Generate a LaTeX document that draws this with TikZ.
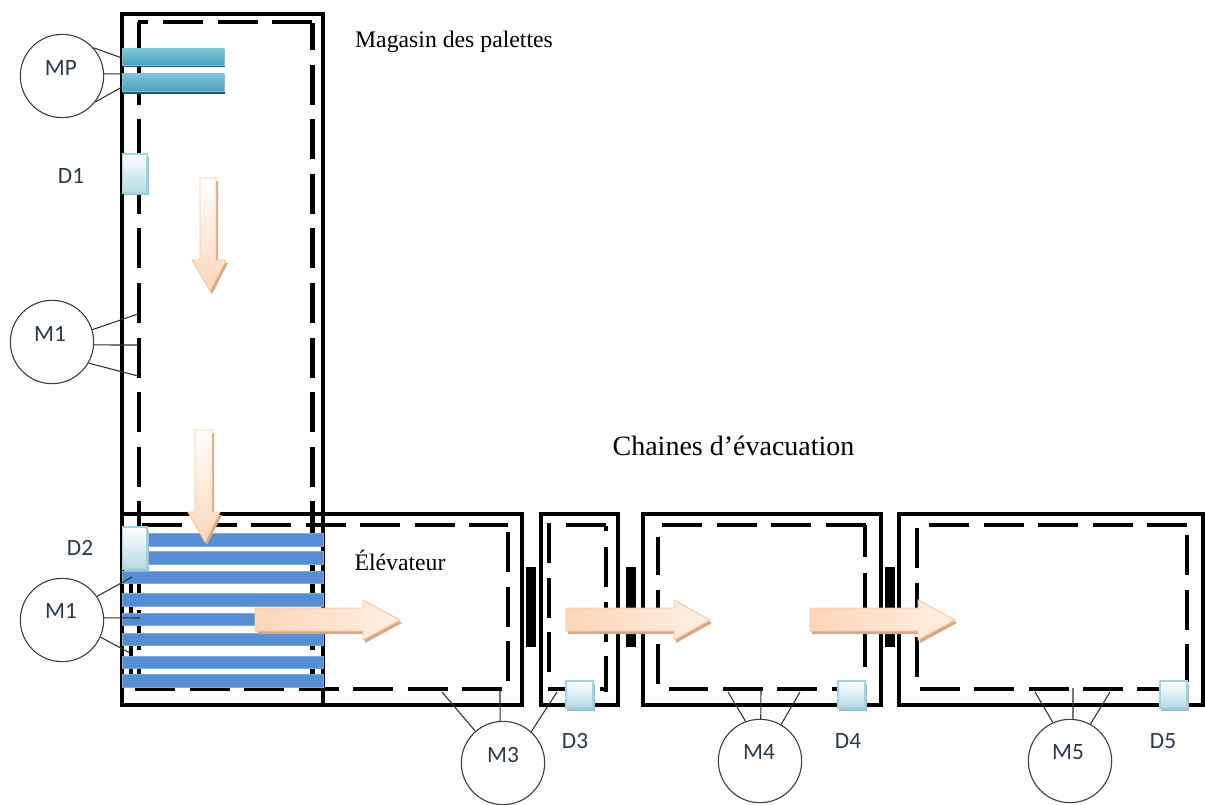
\documentclass[tikz,border=0pt]{standalone}
\usepackage{fontspec}
\setmainfont{Liberation Serif}
\newfontfamily\labelfont{Carlito}
\begin{document}
\begin{tikzpicture}[x=0.75pt,y=-0.75pt,
  outerbox/.style={draw=black,line width=3.1pt},
  dashline/.style={draw=black,line width=3.7pt,dash pattern=on 30pt off 10.875pt},
  coupling/.style={fill=black,draw=none},
  elevbar/.style={fill=blueBar,draw=blueBarEdge,line width=0.4pt},
  motor/.style={circle,draw=motorLine,line width=0.85pt,minimum size=62.5pt,inner sep=0pt},
  link/.style={draw=linkLine,line width=0.8pt},
  tag/.style={font=\labelfont\fontsize{17.5}{20}\selectfont,text=tagText,inner sep=0pt},
  caption/.style={font=\fontsize{17.8}{20}\selectfont,text=black,inner sep=0pt},
  sensorbody/.style={top color=white,bottom color=sensorEnd,draw=sensorEdge,line width=0.8pt},
  sensorshadow/.style={fill=sensorShade,draw=none},
  flowshadow/.style={fill=flowShade,draw=none},
  flowdown/.style={top color=white,bottom color=flowEnd,draw=flowEdge,line width=0.7pt},
  flowright/.style={left color=flowEnd,right color=flowLight,draw=flowEdge,line width=0.7pt}]
\definecolor{blueBar}{HTML}{558ED5}
\definecolor{blueBarEdge}{HTML}{7FA9DE}
\definecolor{motorLine}{HTML}{404040}
\definecolor{linkLine}{HTML}{303030}
\definecolor{tagText}{HTML}{2A3A4A}
\definecolor{sensorEnd}{HTML}{B4DAE5}
\definecolor{sensorEdge}{HTML}{A0D4E2}
\definecolor{sensorShade}{HTML}{9DBDC8}
\definecolor{flowShade}{HTML}{D9A984}
\definecolor{flowEnd}{HTML}{FCD6B8}
\definecolor{flowLight}{HTML}{FEF0E4}
\definecolor{flowEdge}{HTML}{F8C8A0}
\definecolor{palTop}{HTML}{7CC3D8}
\definecolor{palMid}{HTML}{4BA3BE}
\definecolor{palEdge}{HTML}{235A6C}
\useasboundingbox (0,0) rectangle (1205,805);
% outer frames
\draw[outerbox] (122,14) rectangle (323,705);
\draw[outerbox] (122,514) rectangle (522,705);
\draw[outerbox] (541,514) rectangle (618,705);
\draw[outerbox] (643,514) rectangle (881,705);
\draw[outerbox] (899,514) rectangle (1203,705);
% magazine conveyor
\draw[dashline] (138,22) -- (148,22);
\draw[dashline] (163,22) -- (313,22);
\draw[dashline] (312.5,23) -- (312.5,50);
\draw[dashline] (312.5,65) -- (312.5,689);
\draw[dashline] (139,22) -- (139,50);
\draw[dashline] (139,65) -- (139,689);
% elevator conveyor
\draw[dashline] (142,525) -- (508,525);
\draw[dashline] (508,532) -- (508,682);
\draw[dashline] (502,689) -- (135,689);
\draw[dashline] (131,678) -- (131,525);
% second conveyor
\draw[dashline] (549,672) -- (549,523);
\draw[dashline] (566,525) -- (607,525);
\draw[dashline] (606,526) -- (606,531);
\draw[dashline] (606,547) -- (606,692);
\draw[dashline] (608,689) -- (600,689);
\draw[dashline] (565,689) -- (548,689);
% third conveyor
\draw[dashline] (662,525) -- (867,525);
\draw[dashline] (865,525) -- (865,557);
\draw[dashline] (865,573) -- (865,667);
\draw[dashline] (817,689) -- (669,689);
\draw[dashline] (860,689) -- (832,689);
\draw[dashline] (658,684) -- (658,537);
% fourth conveyor
\draw[dashline] (929,525) -- (1187,525);
\draw[dashline] (1187,535) -- (1187,682);
\draw[dashline] (1160,689) -- (1137,689);
\draw[dashline] (1123,689) -- (920,689);
\draw[dashline] (917,677) -- (917,528);
% couplings
\fill[coupling] (526,567) rectangle (536,647);
\fill[coupling] (626,567) rectangle (636,647);
\fill[coupling] (885,567) rectangle (895,647);
% elevator bars
\foreach \ya/\yb in {533/546,551/564,571/583,593/606,613/625,633/645,656/668,674/687}
  \draw[elevbar] (122,\ya) rectangle (323,\yb);
% pallets
\fill[palEdge] (123,53) rectangle (225,67.5);
\fill[palEdge] (123,78) rectangle (225,94);
\draw[top color=palTop,bottom color=palMid,draw=palTop,line width=0.5pt] (122,49) rectangle (224,65);
\draw[top color=palTop,bottom color=palMid,draw=palTop,line width=0.5pt] (122,74) rectangle (224,91.5);
% motors
\node[motor] (mp) at (62,76) {};
\node[motor] (ma) at (52,342) {};
\node[motor] (mb) at (62,620) {};
\node[motor] (mc) at (503,763) {};
\node[motor] (md) at (760,761) {};
\node[motor] (me) at (1070,761) {};
% free ends of the links
\coordinate (mp1) at (122,58);
\coordinate (mp2) at (122,74);
\coordinate (mp3) at (122,87);
\coordinate (ma1) at (138,314);
\coordinate (ma2) at (138,345);
\coordinate (ma3) at (138,376);
\coordinate (mb1) at (132,577);
\coordinate (mb2) at (140,618);
\coordinate (mb3) at (130,653);
\coordinate (mc1) at (442,692);
\coordinate (mc2) at (500,689);
\coordinate (mc3) at (557,692);
\coordinate (md1) at (728,692);
\coordinate (md2) at (761,690);
\coordinate (md3) at (800,692);
\coordinate (me1) at (1035,692);
\coordinate (me2) at (1073,688);
\coordinate (me3) at (1110,692);
\draw[link] (mp.42) -- (mp1);
\draw[link] (mp.3) -- (mp2);
\draw[link] (mp.-38) -- (mp3);
\draw[link] (ma.17) -- (ma1);
\draw[link] (ma.-4) -- (ma2);
\draw[link] (ma.-30) -- (ma3);
\draw[link] (mb.34) -- (mb1);
\draw[link] (mb.3) -- (mb2);
\draw[link] (mb.-24) -- (mb3);
\draw[link] (mc.131) -- (mc1);
\draw[link] (mc.94) -- (mc2);
\draw[link] (mc.48) -- (mc3);
\draw[link] (md.110) -- (md1);
\draw[link] (md.89) -- (md2);
\draw[link] (md.60) -- (md3);
\draw[link] (me.114) -- (me1);
\draw[link] (me.86) -- (me2);
\draw[link] (me.61) -- (me3);
% sensors
\foreach \xa/\ya/\xb/\yb in {122.5/154/147/193,122.5/527/147/569,566/681/593/708,838/681/865/708,1160/681/1187/708}{
  \fill[sensorshadow] (\xa+1,\ya+3) rectangle (\xb+1.5,\yb+2.5);
  \draw[sensorbody] (\xa,\ya) rectangle (\xb,\yb);
}
% flow arrows
\foreach \dx/\dy in {2/3}{
  \fill[flowshadow,shift={(\dx,\dy)}] (200,178) -- (216,178) -- (216,260) -- (226,260) -- (210,291) -- (192,260) -- (200,260) -- cycle;
  \fill[flowshadow,shift={(\dx,\dy)}] (195,430) -- (212,430) -- (212,512) -- (220,512) -- (205,542) -- (188,512) -- (195,512) -- cycle;
  \fill[flowshadow,shift={(\dx,\dy)}] (255,608) -- (363,608) -- (363,600) -- (400,620) -- (363,640) -- (363,631) -- (255,631) -- cycle;
  \fill[flowshadow,shift={(\dx,\dy)}] (566,608) -- (674,608) -- (674,600) -- (710,620) -- (674,640) -- (674,631) -- (566,631) -- cycle;
  \fill[flowshadow,shift={(\dx,\dy)}] (810,608) -- (918,608) -- (918,600) -- (955,620) -- (918,640) -- (918,631) -- (810,631) -- cycle;
}
\draw[flowdown] (200,178) -- (216,178) -- (216,260) -- (226,260) -- (210,291) -- (192,260) -- (200,260) -- cycle;
\draw[flowdown] (195,430) -- (212,430) -- (212,512) -- (220,512) -- (205,542) -- (188,512) -- (195,512) -- cycle;
\draw[flowright] (255,608) -- (363,608) -- (363,600) -- (400,620) -- (363,640) -- (363,631) -- (255,631) -- cycle;
\draw[flowright] (566,608) -- (674,608) -- (674,600) -- (710,620) -- (674,640) -- (674,631) -- (566,631) -- cycle;
\draw[flowright] (810,608) -- (918,608) -- (918,600) -- (955,620) -- (918,640) -- (918,631) -- (810,631) -- cycle;
% labels
\node[tag] (tmp) at (61,68) {MP};
\node[tag] (td1) at (71,176) {D1};
\node[tag] (tm1a) at (50,334) {M1};
\node[tag] (td2) at (80,548) {D2};
\node[tag] (tm1b) at (61,611) {M1};
\node[tag] (tm3) at (503,755) {M3};
\node[tag] (td3) at (575,741) {D3};
\node[tag] (tm4) at (759,752) {M4};
\node[tag] (td4) at (848,741) {D4};
\node[tag] (tm5) at (1068,752) {M5};
\node[tag] (td5) at (1163,741) {D5};
\node[caption] (tmag) at (454,42) {Magasin des palettes};
\node[caption,font=\fontsize{21}{24}\selectfont] (tcha) at (733.5,446) {Chaines d’évacuation};
\node[caption] (tele) at (400,560) {Élévateur};
\end{tikzpicture}
\end{document}
